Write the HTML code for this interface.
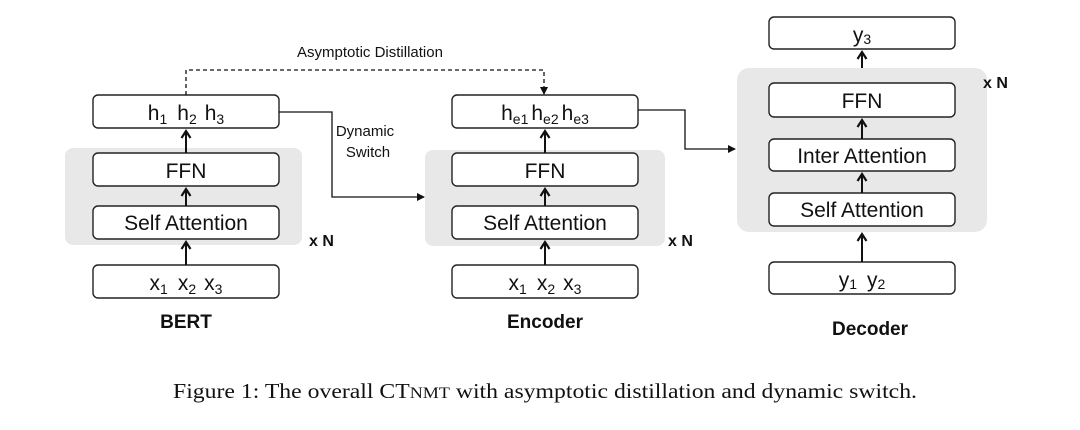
<!DOCTYPE html>
<html><head><meta charset="utf-8"><style>
html,body{margin:0;padding:0;background:#fff}
svg{display:block}
text{font-family:"Liberation Sans",Arial,sans-serif;fill:#111}
.b{fill:#fff;stroke:#222;stroke-width:1.4}
.g{fill:#e8e8e8}
.t{font-size:21px;text-anchor:middle}
.l{stroke:#111;stroke-width:1.3;fill:none}
.v{stroke:#111;stroke-width:2;fill:none}
.lb{font-size:19px;font-weight:bold;text-anchor:middle}
.xn{font-size:16px;font-weight:bold}
</style></head><body>
<svg width="1080" height="430" viewBox="0 0 1080 430">
<defs><marker id="a" markerWidth="8" markerHeight="8" refX="7" refY="4" orient="auto" markerUnits="userSpaceOnUse"><path d="M0,0 L8,4 L0,8 z" fill="#111"/></marker>
<marker id="u" markerWidth="12" markerHeight="12" refX="9" refY="6" orient="auto" markerUnits="userSpaceOnUse"><path d="M2,1.5 L9,6 L2,10.5" stroke="#111" stroke-width="2.2" fill="none"/></marker></defs>
<!-- gray bgs -->
<rect class="g" x="65" y="148" width="237" height="97" rx="8"/>
<rect class="g" x="425" y="150" width="240" height="96" rx="8"/>
<rect class="g" x="737" y="68" width="250" height="164" rx="12"/>
<!-- BERT -->
<rect class="b" x="93" y="95" width="186" height="33" rx="5"/>
<rect class="b" x="93" y="153" width="186" height="33" rx="5"/>
<rect class="b" x="93" y="206" width="186" height="33" rx="5"/>
<rect class="b" x="93" y="265" width="186" height="33" rx="5"/>
<text class="t" x="186" y="120">h<tspan font-size="14" dy="4">1</tspan><tspan dx="10" dy="-4">h</tspan><tspan font-size="14" dy="4">2</tspan><tspan dx="8" dy="-4">h</tspan><tspan font-size="14" dy="4">3</tspan></text>
<text class="t" x="186" y="178">FFN</text>
<text class="t" x="186" y="230">Self Attention</text>
<text class="t" x="186" y="290">x<tspan font-size="14" dy="4">1</tspan><tspan dx="10" dy="-4">x</tspan><tspan font-size="14" dy="4">2</tspan><tspan dx="8" dy="-4">x</tspan><tspan font-size="14" dy="4">3</tspan></text>
<text class="lb" x="186" y="328">BERT</text>
<text class="xn" x="309" y="246">x N</text>
<line class="v" x1="186" y1="153" x2="186" y2="131" marker-end="url(#u)"/>
<line class="v" x1="186" y1="206" x2="186" y2="189" marker-end="url(#u)"/>
<line class="v" x1="186" y1="265" x2="186" y2="242" marker-end="url(#u)"/>
<!-- Encoder -->
<rect class="b" x="452" y="95" width="186" height="33" rx="5"/>
<rect class="b" x="452" y="153" width="186" height="33" rx="5"/>
<rect class="b" x="452" y="206" width="186" height="33" rx="5"/>
<rect class="b" x="452" y="265" width="186" height="33" rx="5"/>
<text class="t" x="545" y="120">h<tspan font-size="14" dy="4">e1</tspan><tspan dx="3" dy="-4">h</tspan><tspan font-size="14" dy="4">e2</tspan><tspan dx="3" dy="-4">h</tspan><tspan font-size="14" dy="4">e3</tspan></text>
<text class="t" x="545" y="178">FFN</text>
<text class="t" x="545" y="230">Self Attention</text>
<text class="t" x="545" y="290">x<tspan font-size="14" dy="4">1</tspan><tspan dx="10" dy="-4">x</tspan><tspan font-size="14" dy="4">2</tspan><tspan dx="8" dy="-4">x</tspan><tspan font-size="14" dy="4">3</tspan></text>
<text class="lb" x="545" y="328">Encoder</text>
<text class="xn" x="668" y="246">x N</text>
<line class="v" x1="545" y1="153" x2="545" y2="131" marker-end="url(#u)"/>
<line class="v" x1="545" y1="206" x2="545" y2="189" marker-end="url(#u)"/>
<line class="v" x1="545" y1="265" x2="545" y2="242" marker-end="url(#u)"/>
<!-- Decoder -->
<rect class="b" x="769" y="17" width="186" height="32" rx="5"/>
<rect class="b" x="769" y="83" width="186" height="34" rx="5"/>
<rect class="b" x="769" y="139" width="186" height="32" rx="5"/>
<rect class="b" x="769" y="193" width="186" height="33" rx="5"/>
<rect class="b" x="769" y="262" width="186" height="32" rx="5"/>
<text class="t" x="862" y="42">y<tspan font-size="14" dy="2">3</tspan></text>
<text class="t" x="862" y="108">FFN</text>
<text class="t" x="862" y="163">Inter Attention</text>
<text class="t" x="862" y="217">Self Attention</text>
<text class="t" x="862" y="287">y<tspan font-size="14" dy="2">1</tspan><tspan dx="10" dy="-2">y</tspan><tspan font-size="14" dy="2">2</tspan></text>
<text class="lb" x="870" y="335">Decoder</text>
<text class="xn" x="983" y="88">x N</text>
<line class="v" x1="862" y1="68" x2="862" y2="52" marker-end="url(#u)"/>
<line class="v" x1="862" y1="139" x2="862" y2="120" marker-end="url(#u)"/>
<line class="v" x1="862" y1="193" x2="862" y2="174" marker-end="url(#u)"/>
<line class="v" x1="862" y1="262" x2="862" y2="234" marker-end="url(#u)"/>
<!-- connectors -->
<path class="l" d="M186,95 V70 H544 V94" stroke-dasharray="4,3" marker-end="url(#a)"/>
<text x="370" y="57" font-size="15" text-anchor="middle">Asymptotic Distillation</text>
<path class="l" d="M279,112 H332 V197 H424" marker-end="url(#a)"/>
<text x="365" y="136" font-size="15" text-anchor="middle">Dynamic</text>
<text x="368" y="157" font-size="15" text-anchor="middle">Switch</text>
<path class="l" d="M638,110 H685 V149 H735" marker-end="url(#a)"/>
<!-- caption -->
<text x="173" y="398" textLength="744" lengthAdjust="spacingAndGlyphs" style="font-family:'Liberation Serif','Times New Roman',serif;font-size:21px">Figure 1: The overall CT<tspan font-size="16">NMT</tspan> with asymptotic distillation and dynamic switch.</text>
</svg>
</body></html>
